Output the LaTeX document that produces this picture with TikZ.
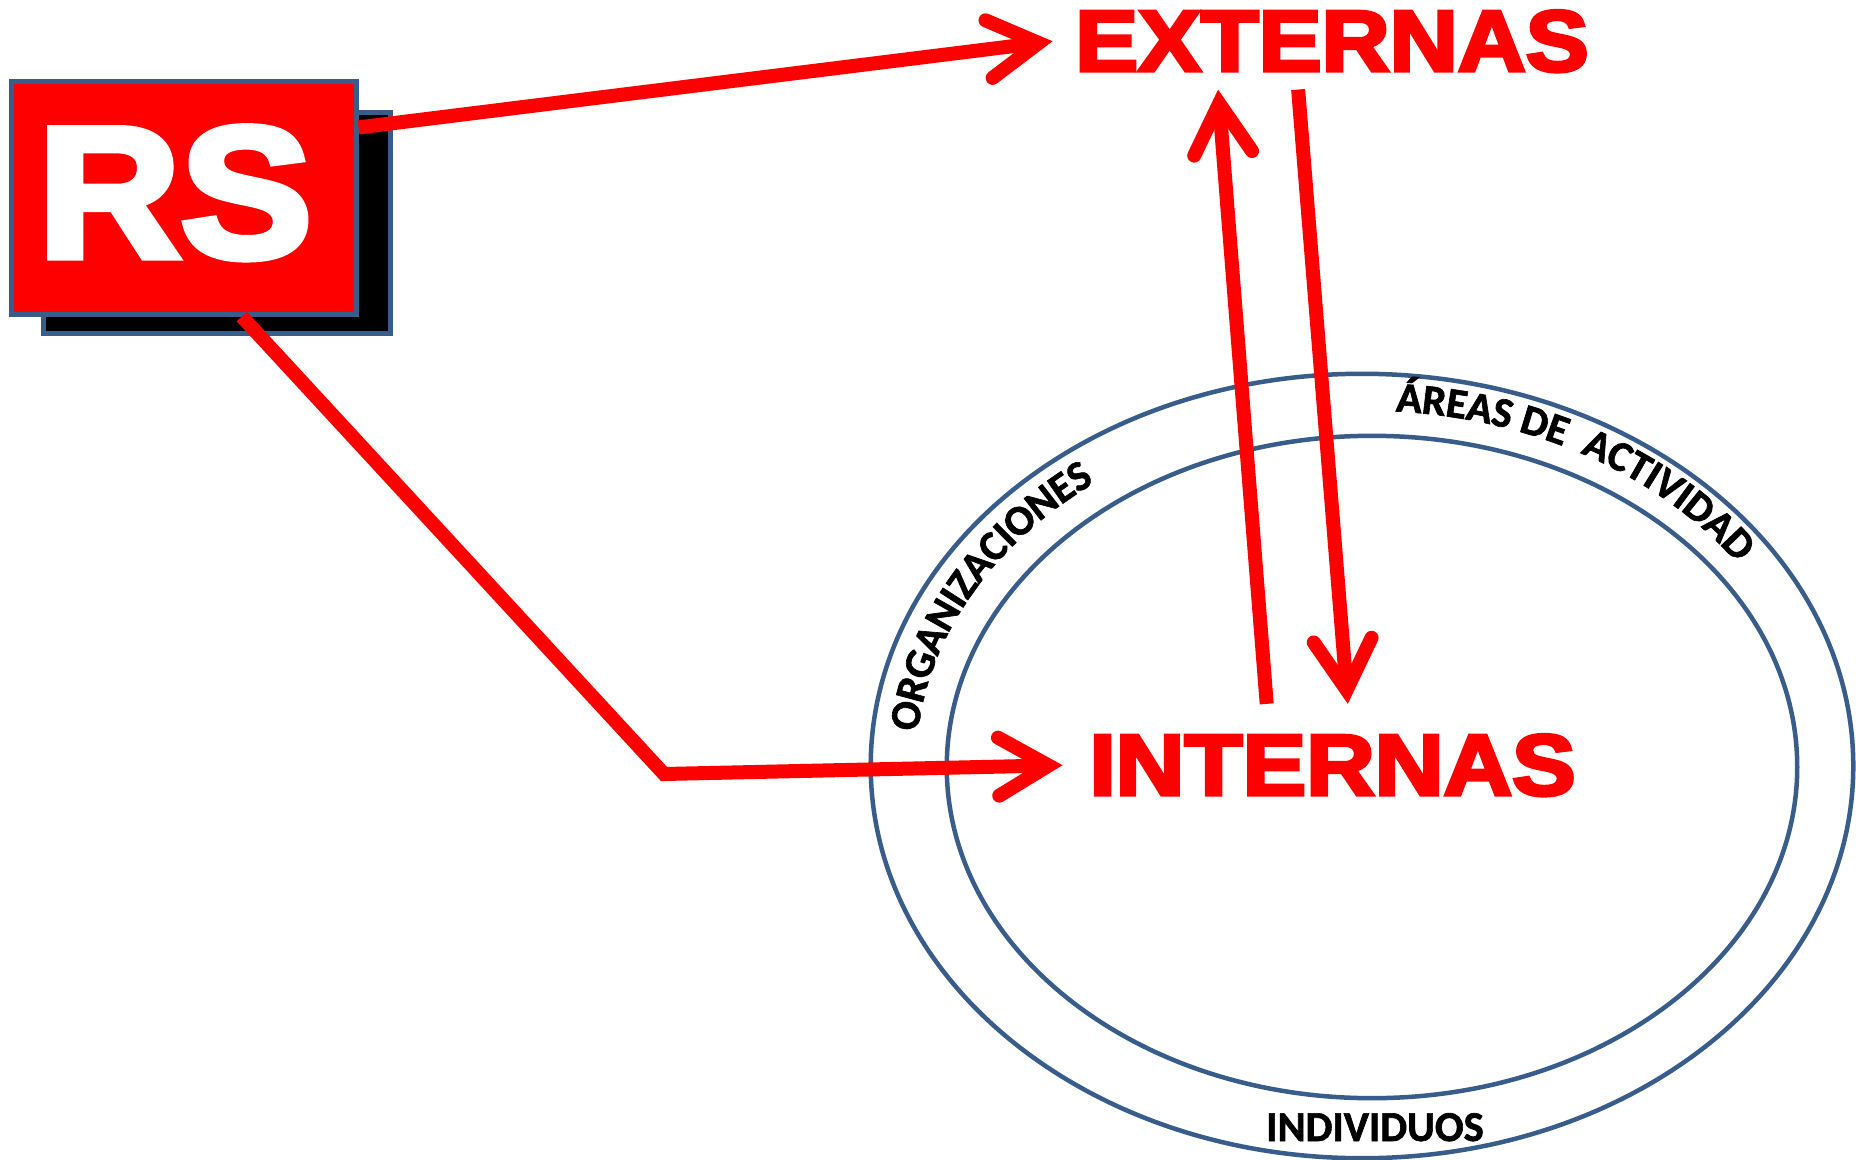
\documentclass[tikz,border=0pt]{standalone}
\usepackage{fontspec}
\usepackage{graphicx}
\usepackage{tikz}
\usetikzlibrary{arrows.meta}
\usetikzlibrary{decorations.text}
\usetikzlibrary{positioning}
\newfontfamily\wordfont{Liberation Sans Bold}[FakeBold=4]
\newfontfamily\ringfont{Carlito Bold}[FakeBold=1.5]
\definecolor{rimcolour}{RGB}{56,93,138}
\newcommand\arrowwd{0.14cm}
\newcommand\rimwd{0.045cm}
\newcommand\boxwd{0.05cm}
\newcommand\widen[2][1.1]{\scalebox{#1}[1]{#2}}
\newcommand\rimfont{\ringfont\fontsize{12.1}{14}\selectfont}
\tikzstyle{relation} = [line width=\arrowwd, color=red,
 -{Straight Barb[length=0.5cm, width=0.58cm, line cap=round, line join=miter]}]
\tikzstyle{rim}       = [line width=\rimwd, color=rimcolour]
\tikzstyle{rsbox}     = [draw=rimcolour, line width=\boxwd, fill=red, minimum width=3.44cm, minimum height=2.32cm]
\tikzstyle{shadowbox} = [draw=rimcolour, line width=\boxwd, fill=black, minimum width=3.46cm, minimum height=2.2cm]
\tikzstyle{rsword}    = [text=white, font=\wordfont\fontsize{53}{58}\selectfont, anchor=base, inner sep=0pt]
\tikzstyle{bigword}   = [text=red, font=\wordfont\fontsize{24.6}{30}\selectfont, anchor=base]
\tikzstyle{rimword}   = [font=\rimfont, anchor=base, inner sep=0pt]

\begin{document}
\begin{tikzpicture}[x=0.01cm, y=0.01cm]
    \useasboundingbox (0, 0) rectangle (1856, 1159);
    \draw (217, 936) node[shadowbox] (shadow) {};
    \draw (184, 961) node[rsbox] (rs) {};
    \draw (175, 902) node[rsword] (rsname) {\widen[1.06]{RS}};
    \draw[rim] (1362, 393) ellipse [x radius=4.91cm, y radius=3.92cm];
    \draw[rim] (1372, 392) ellipse [x radius=4.25cm, y radius=3.31cm];
    \coordinate (ringc) at (1367, 393);
    \draw (1332, 1088) node[bigword, inner xsep=0.22cm, inner ysep=0.17cm] (ext) {\widen[1.09]{EXTERNAS}};
    \draw (1332.5, 364) node[bigword, inner xsep=0.26cm, inner ysep=0.3cm] (int) {\widen{INTERNAS}};
    \draw (1375, 18) node[rimword] (indiv) {INDIVIDUOS};
    \coordinate (bend) at (664, 385);
    \draw[relation] (rs.22.7) -- (ext.west);
    \draw[relation] (rs.296.6) -- (bend) -- (int.west);
    \draw[relation] (int.137) -- (ext.203);
    \draw[relation] (ext.235) -- (int.76.6);
    \path[decorate, decoration={text along path, raise=-0.07cm, text align=center,
      text={|\rimfont|ORGANIZACIONES}}]
      (ringc) ++(178:4.58cm and 3.62cm) arc [start angle=178, end angle=124, x radius=4.58cm, y radius=3.62cm];
    \path[decorate, decoration={text along path, raise=-0.07cm, text align=center,
      text={|\rimfont|ÁREAS DE{\ \ }ACTIVIDAD}}]
      (ringc) ++(88:4.58cm and 3.62cm) arc [start angle=88, end angle=33, x radius=4.58cm, y radius=3.62cm];
\end{tikzpicture}
\end{document}
